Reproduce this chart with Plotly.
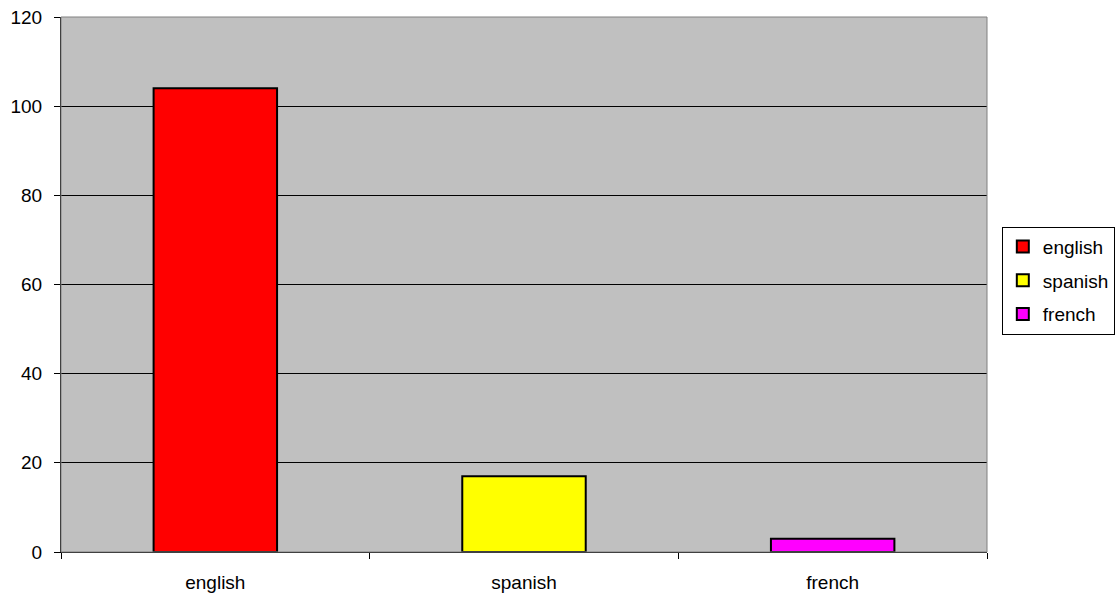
import plotly.graph_objects as go

languages = ["english", "spanish", "french"]
counts = [104, 17, 3]
colors = ["#FF0000", "#FFFF00", "#FF00FF"]

fig = go.Figure()
for name, val, col in zip(languages, counts, colors):
    fig.add_trace(go.Bar(
        x=[name], y=[val], name=name, legendgroup=name,
        width=0.4,
        marker=dict(color=col, line=dict(color="#000000", width=2)),
    ))

fig.update_layout(
    width=1115, height=601,
    margin=dict(l=61, r=128, t=17, b=49, autoexpand=False),
    paper_bgcolor="#FFFFFF",
    plot_bgcolor="#C0C0C0",
    barmode="overlay",
    font=dict(family="Liberation Sans, Arial, sans-serif", size=19, color="#000000"),
    legend=dict(
        x=1.016, y=0.507, xanchor="left", yanchor="middle",
        bordercolor="#000000", borderwidth=1,
        font=dict(size=19), tracegroupgap=6,
        itemwidth=30,
    ),
    xaxis=dict(
        categoryorder="array", categoryarray=languages,
        tickson="boundaries", ticks="outside", ticklen=6, tickcolor="#000000",
        ticklabelstandoff=13,
        showline=True, linecolor="#000000", linewidth=1,
        showgrid=False, mirror=False,
    ),
    yaxis=dict(
        range=[0, 120], tickvals=[0, 20, 40, 60, 80, 100, 120],
        ticks="outside", ticklen=6, tickcolor="#000000",
        ticklabelstandoff=8,
        showline=True, linecolor="#000000", linewidth=1,
        gridcolor="#000000", gridwidth=1, zeroline=False,
    ),
    shapes=[dict(type="rect", xref="paper", yref="paper", x0=0, x1=1, y0=0, y1=1,
                 line=dict(color="#808080", width=1), layer="above")],
)

fig.write_html("out.html")
